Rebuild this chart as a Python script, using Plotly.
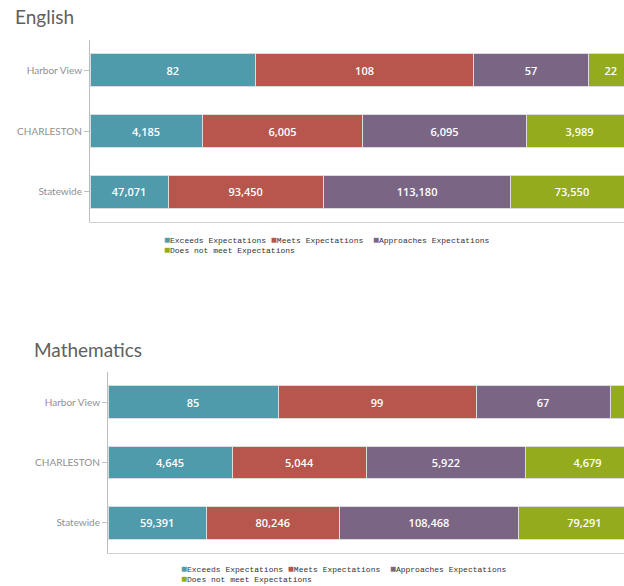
import plotly.graph_objects as go

# ---------------- data ----------------
categories = ["Harbor View", "CHARLESTON", "Statewide"]
series_names = ["Exceeds Expectations", "Meets Expectations",
                "Approaches Expectations", "Does not meet Expectations"]
series_colors = ["#4f9bac", "#b6564c", "#7a6684", "#93ab1d"]

english_exceeds = [82, 4185, 47071]
english_meets = [108, 6005, 93450]
english_approaches = [57, 6095, 113180]
english_not_meet = [22, 3989, 73550]

math_exceeds = [85, 4645, 59391]
math_meets = [99, 5044, 80246]
math_approaches = [67, 5922, 108468]
math_not_meet = [20, 4679, 79291]

subjects = ["English", "Mathematics"]

# ---------------- layout helpers ----------------
W, H = 624, 586


def px_x(p):
    return p / W


def px_y(p):
    return 1 - p / H


fig = go.Figure()

panels = [
    dict(title=subjects[0], series=[english_exceeds, english_meets, english_approaches, english_not_meet],
         left=90, top=40, bottom=222, full=543, title_x=13, title_y=17, leg_x=162, leg_y=245, ax=""),
    dict(title=subjects[1], series=[math_exceeds, math_meets, math_approaches, math_not_meet],
         left=108, top=372, bottom=553, full=542, title_x=32, title_y=349, leg_x=179, leg_y=574, ax="2"),
]

annotations = []
for p in panels:
    for name, color, vals in zip(series_names, series_colors, p["series"]):
        fig.add_trace(go.Bar(
            orientation="h", y=categories, x=vals, name=name,
            text=[f"{v:,}" for v in vals],
            textposition="inside", insidetextanchor="middle",
            textfont=dict(color="white", size=11, family="Open Sans", weight=600),
            marker=dict(color=color, line=dict(color="#dcdcdc", width=1)),
            xaxis="x" + p["ax"], yaxis="y" + p["ax"], showlegend=False,
        ))
    xa = dict(domain=[px_x(p["left"]), 1], range=[0, 100 * (W - p["left"]) / p["full"]],
              showticklabels=False, showgrid=False, zeroline=False,
              showline=True, linecolor="#cfcfcf", linewidth=1, ticks="", anchor="y" + p["ax"])
    ya = dict(domain=[px_y(p["bottom"]), px_y(p["top"])], autorange="reversed",
              showgrid=False, zeroline=False, showline=True, linecolor="#bdbdbd", linewidth=1,
              ticks="outside", ticklen=5, tickcolor="#bdbdbd",
              tickfont=dict(family="Lato", size=10, color="#8f8f8f"), anchor="x" + p["ax"])
    fig.update_layout(**{"xaxis" + p["ax"]: xa, "yaxis" + p["ax"]: ya})

    annotations.append(dict(
        text=p["title"], x=px_x(p["title_x"]), y=px_y(p["title_y"]), xref="paper", yref="paper",
        xanchor="left", yanchor="middle", showarrow=False,
        font=dict(family="Lato", size=19, color="#606060")))

    items = [f'<span style="color:{c};font-size:10px">■</span>{n}'
             for n, c in zip(series_names, series_colors)]
    legend_text = items[0] + " " + items[1] + "  " + items[2] + "<br>" + items[3]
    annotations.append(dict(
        text=legend_text, x=px_x(p["leg_x"]), y=px_y(p["leg_y"]), xref="paper", yref="paper",
        xanchor="left", yanchor="middle", align="left", showarrow=False,
        font=dict(family="Liberation Mono", size=8, color="#333333")))

fig.update_layout(
    width=W, height=H, margin=dict(l=0, r=0, t=0, b=0),
    barmode="stack", barnorm="percent", bargap=0.455,
    plot_bgcolor="white", paper_bgcolor="white",
    annotations=annotations,
)

fig.write_html("out.html", config={"displayModeBar": False},
               post_script="document.body.style.margin='0';document.body.style.overflow='hidden';")
